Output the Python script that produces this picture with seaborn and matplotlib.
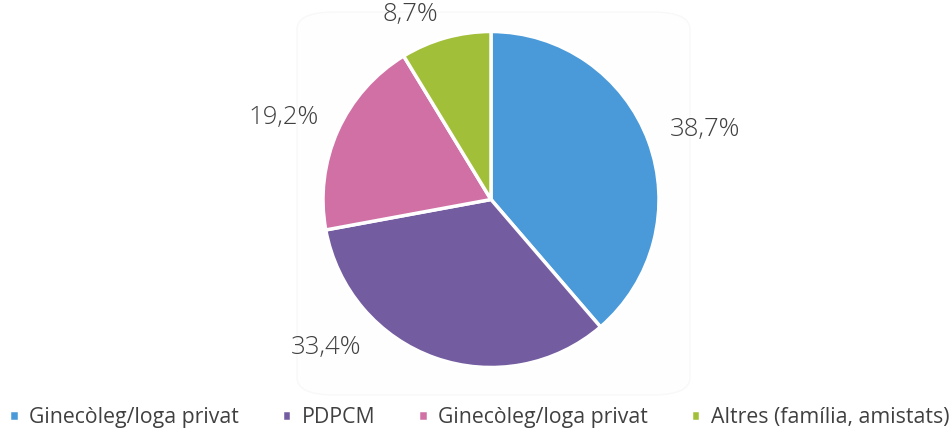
import numpy as np
import matplotlib
matplotlib.use("Agg")
import matplotlib.pyplot as plt
from matplotlib.patches import FancyBboxPatch
import seaborn as sns

# data
categories = ["Ginecòleg/loga privat", "PDPCM", "Ginecòleg/loga privat", "Altres (família, amistats)"]
values = [38.7, 33.4, 19.2, 8.7]
labels = ["38,7%", "33,4%", "19,2%", "8,7%"]
colors = ["#4A9AD9", "#735CA0", "#D070A5", "#A2BF39"]
# label placement angles (deg) and radii
label_angles = [18, -138, 158.5, 113.5]
label_radius = [1.34, 1.32, 1.33, 1.20]

sns.set_theme(style="white")
plt.rcParams["font.family"] = ["Open Sans", "DejaVu Sans"]
text_color = "#404040"

fig = plt.figure(figsize=(9.53, 4.32), dpi=100)

# faint rounded panel behind the pie
panel = FancyBboxPatch((297 / 953, 1 - 395 / 432), 393 / 953, 383 / 432,
                       boxstyle="round,pad=0,rounding_size=0.04",
                       transform=fig.transFigure, facecolor="#fefefe",
                       edgecolor="#f8f8f8", linewidth=1.0, zorder=-5)
fig.patches.append(panel)

ax = fig.add_axes([323 / 953, 1 - 368 / 432, 336 / 953, 337 / 432])
ax.set_zorder(1)
ax.patch.set_alpha(0)
wedges, _ = ax.pie(values, colors=colors, startangle=90, counterclock=False,
                   radius=1, wedgeprops=dict(edgecolor="white", linewidth=2.5))
ax.set_xlim(-1, 1)
ax.set_ylim(-1, 1)
ax.set_aspect("equal")
ax.axis("off")

for lab, ang, r in zip(labels, label_angles, label_radius):
    a = np.deg2rad(ang)
    ax.text(r * np.cos(a), r * np.sin(a), lab, ha="center", va="center",
            fontsize=18.5, fontweight="light", color=text_color)

leg = fig.legend(wedges, categories, loc="lower center", bbox_to_anchor=(0.503, -0.035),
                 ncol=4, frameon=False, handlelength=0.45, handleheight=0.45,
                 handletextpad=0.5, columnspacing=2.0, fontsize=15.3)
for t in leg.get_texts():
    t.set_color(text_color)

fig.savefig("out.png", dpi=100, facecolor="white")
